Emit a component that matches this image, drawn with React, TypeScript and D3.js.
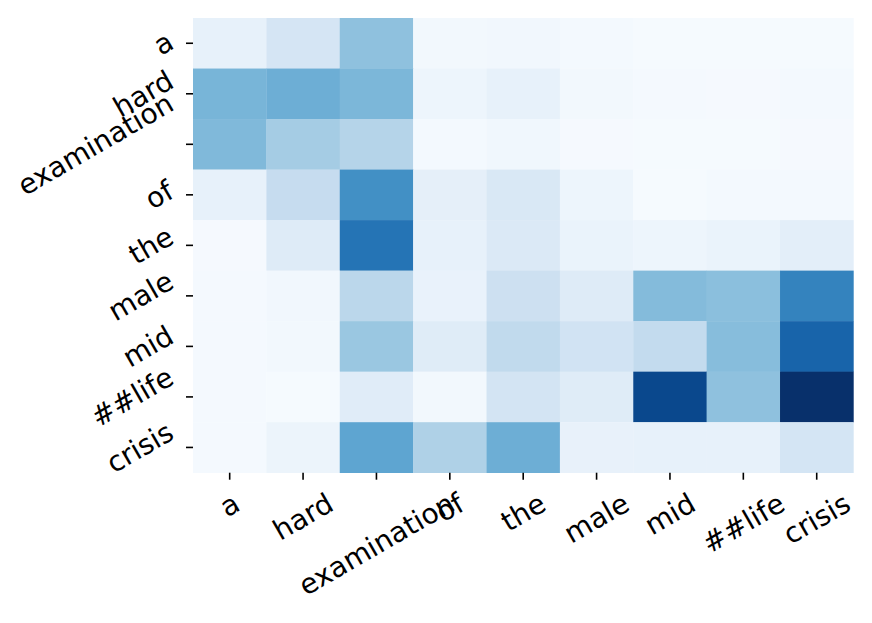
import React from 'react';
import * as d3 from 'd3';

const tokens = ['a', 'hard', 'examination', 'of', 'the', 'male', 'mid', '##life', 'crisis'];

// attention weights (row = query token, column = key token), normalised to max
const rowA = [0.08, 0.17, 0.41, 0.025, 0.03, 0.018, 0.01, 0.01, 0.01];
const rowHard = [0.47, 0.5, 0.46, 0.05, 0.08, 0.025, 0.015, 0.012, 0.018];
const rowExamination = [0.45, 0.35, 0.3, 0.018, 0.035, 0.012, 0.01, 0.01, 0.012];
const rowOf = [0.08, 0.24, 0.63, 0.09, 0.15, 0.05, 0.01, 0.018, 0.018];
const rowThe = [0.012, 0.125, 0.74, 0.08, 0.14, 0.065, 0.05, 0.065, 0.1];
const rowMale = [0.015, 0.03, 0.28, 0.07, 0.21, 0.125, 0.44, 0.42, 0.68];
const rowMid = [0.015, 0.025, 0.38, 0.12, 0.26, 0.19, 0.25, 0.43, 0.8];
const rowLife = [0.015, 0.01, 0.115, 0.025, 0.18, 0.12, 0.91, 0.41, 1.0];
const rowCrisis = [0.015, 0.055, 0.54, 0.32, 0.5, 0.075, 0.08, 0.08, 0.175];

const matrix = [rowA, rowHard, rowExamination, rowOf, rowThe, rowMale, rowMid, rowLife, rowCrisis];

const FONT_SIZE = 28;
const FONT = `${FONT_SIZE}px "DejaVu Sans"`;
const ANGLE = 30;

function measure(text: string): number {
  const c = document.createElement('canvas');
  const ctx = c.getContext('2d')!;
  ctx.font = FONT;
  return ctx.measureText(text).width;
}

export default function App() {
  const W = 872;
  const H = 623;
  const left = 193;
  const right = 853.4;
  const top = 18;
  const bottom = 472.7;
  const tickLen = 7;
  const pad = 7;

  const x = d3.scaleBand<string>().domain(tokens).range([left, right]).padding(0);
  const y = d3.scaleBand<string>().domain(tokens).range([top, bottom]).padding(0);
  const color = d3.scaleSequential(d3.interpolateBlues).domain([0, 1]);

  const rad = (ANGLE * Math.PI) / 180;
  const boxH = FONT_SIZE * 1.164;
  const baseOff = FONT_SIZE * 0.346;

  const cells: JSX.Element[] = [];
  matrix.forEach((row, i) => {
    row.forEach((v, j) => {
      cells.push(
        <rect
          key={`${i}-${j}`}
          x={x(tokens[j])!}
          y={y(tokens[i])!}
          width={x.bandwidth() + 0.3}
          height={y.bandwidth() + 0.3}
          fill={color(v)}
        />
      );
    });
  });

  return (
    <svg
      width={W}
      height={H}
      style={{ position: 'absolute', left: 0, top: 0, background: '#fff' }}
      fontFamily='"DejaVu Sans", sans-serif'
      fontSize={FONT_SIZE}
    >
      <rect x={0} y={0} width={W} height={H} fill="#fff" />
      <g>{cells}</g>
      {/* x axis */}
      {tokens.map((t) => {
        const cx0 = x(t)! + x.bandwidth() / 2;
        const w = measure(t);
        const bh = w * Math.sin(rad) + boxH * Math.cos(rad);
        const topY = bottom + tickLen + pad;
        const cy = topY + bh / 2;
        return (
          <g key={`x-${t}`}>
            <line x1={cx0} x2={cx0} y1={bottom} y2={bottom + tickLen} stroke="#000" strokeWidth={1.6} />
            <text
              transform={`translate(${cx0},${cy}) rotate(${-ANGLE})`}
              textAnchor="middle"
              y={baseOff}
              fill="#000"
            >
              {t}
            </text>
          </g>
        );
      })}
      {/* y axis */}
      {tokens.map((t) => {
        const cy0 = y(t)! + y.bandwidth() / 2;
        const w = measure(t);
        const bw = w * Math.cos(rad) + boxH * Math.sin(rad);
        const rightX = left - tickLen - pad;
        const cx = rightX - bw / 2;
        return (
          <g key={`y-${t}`}>
            <line x1={left - tickLen} x2={left} y1={cy0} y2={cy0} stroke="#000" strokeWidth={1.6} />
            <text
              transform={`translate(${cx},${cy0}) rotate(${-ANGLE})`}
              textAnchor="middle"
              y={baseOff}
              fill="#000"
            >
              {t}
            </text>
          </g>
        );
      })}
    </svg>
  );
}
